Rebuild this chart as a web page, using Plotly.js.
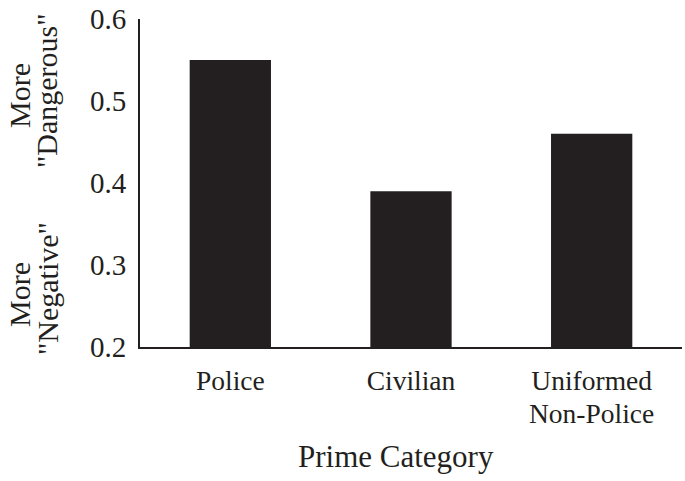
<!DOCTYPE html>
<html>
<head>
<meta charset="utf-8">
<script src="https://cdn.plot.ly/plotly-3.0.1.min.js"></script>
<style>html,body{margin:0;padding:0;background:#fff;}#chart{width:685px;height:481px;}</style>
</head>
<body>
<div id="chart"></div>
<script>
const categories = ["Police", "Civilian", "Uniformed Non-Police"];
const tickLine1 = ["Police", "Civilian", "Uniformed"];
const tickLine2 = ["", "", "Non-Police"];
const values = [0.55, 0.39, 0.46];
const yTicks = [0.2, 0.3, 0.4, 0.5, 0.6];
const yTickLabels = ["0.2", "0.3", "0.4", "0.5", "0.6"];
const xTitle = "Prime Category";
const yLabelTop = ["More", "\"Dangerous\""];
const yLabelBottom = ["More", "\"Negative\""];

const ink = "#231f20";
const fontFam = "Liberation Serif, Times New Roman, serif";

// plot area in pixels: x 140..682, y 19..347
const L = 140, R = 682, T = 19, B = 347;
const px = v => (v - L) / (R - L);
const py = v => (B - v) / (B - T);

function rotLabel(text, cx, cy) {
  return {
    text: text, xref: "paper", yref: "paper", x: px(cx), y: py(cy),
    xanchor: "center", yanchor: "middle", showarrow: false, textangle: -90,
    font: {family: fontFam, size: 30, color: ink}
  };
}

const annotations = [
  rotLabel(yLabelTop[0], 19, 96),
  rotLabel(yLabelTop[1], 47, 91),
  rotLabel(yLabelBottom[0], 19, 295),
  rotLabel(yLabelBottom[1], 47, 289),
  {
    text: xTitle, xref: "paper", yref: "paper", x: px(396), y: py(456),
    xanchor: "center", yanchor: "middle", showarrow: false,
    font: {family: fontFam, size: 31, color: ink}
  }
];
tickLine2.forEach((t, i) => {
  if (t) annotations.push({
    text: t, xref: "x", yref: "paper", x: categories[i], y: py(413),
    xanchor: "center", yanchor: "middle", showarrow: false, borderpad: 0,
    font: {family: fontFam, size: 27.5, color: ink}
  });
});

const data = [{
  type: "bar",
  x: categories,
  y: values,
  width: 0.45,
  marker: {color: ink, line: {width: 0}},
  hoverinfo: "skip"
}];

const layout = {
  width: 685, height: 481,
  margin: {l: L, r: 685 - R, t: T, b: 481 - B, pad: 0},
  paper_bgcolor: "#fff", plot_bgcolor: "#fff",
  showlegend: false,
  font: {family: fontFam, color: ink, size: 27},
  xaxis: {
    type: "category",
    range: [-0.5, 2.5],
    tickvals: categories, ticktext: tickLine1,
    showline: true, linecolor: ink, linewidth: 2,
    ticks: "", showgrid: false, zeroline: false,
    tickfont: {family: fontFam, size: 27.5, color: ink},
    ticklabelstandoff: 8,
    fixedrange: true
  },
  yaxis: {
    range: [0.2, 0.6],
    tickvals: yTicks, ticktext: yTickLabels,
    showline: true, linecolor: ink, linewidth: 2,
    ticks: "", showgrid: false, zeroline: false,
    tickfont: {family: fontFam, size: 29, color: ink},
    ticklabelstandoff: 6,
    fixedrange: true
  },
  annotations: annotations
};

Plotly.newPlot("chart", data, layout, {displayModeBar: false, staticPlot: true});
</script>
</body>
</html>
